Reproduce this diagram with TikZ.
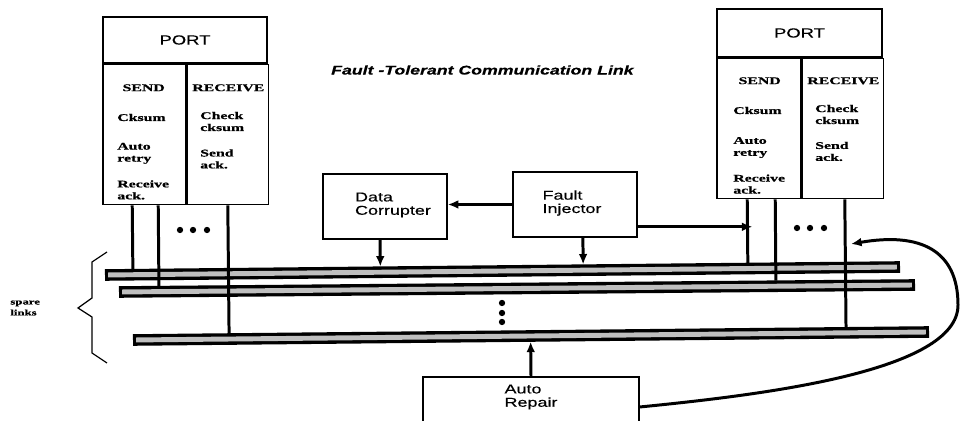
\documentclass[tikz,border=0pt]{standalone}
\usepackage{fontspec}
\newfontfamily\figsans[FakeStretch=1.4, FakeBold=0.4]{Liberation Sans}
\newfontfamily\figserif[FakeStretch=1.55, FakeBold=0.8]{Liberation Serif}
\usetikzlibrary{arrows.meta, positioning, calc}

\begin{document}
\begin{tikzpicture}[x=0.02cm, y=-0.02cm, >={Latex[length=6pt, width=5pt]},
  frame/.style={draw, line width=0.9pt, inner sep=0pt},
  boxtext/.style={font=\figsans\fontsize{7.3}{7.6}\selectfont, align=left, inner sep=0pt},
  coltext/.style={font=\figserif\bfseries\fontsize{5.8}{6.8}\selectfont, align=left, inner sep=0pt, anchor=north west},
  wire/.style={line width=1.7pt, shorten >=3.2pt},
  arr/.style={->, line width=1.7pt},
  bus/.style={line width=6.6pt, postaction={draw, gray!50, line width=2.8pt, shorten <=1.8pt, shorten >=1.8pt}}]
  \useasboundingbox (0,0) rectangle (960,421);

  % Title
  \node[font=\figsans\bfseries\itshape\fontsize{7.2}{9}\selectfont, anchor=west] (title) at (325,70) {Fault -Tolerant Communication Link};

  % Left port
  \node[frame, minimum width=3.28cm, minimum height=0.92cm, font=\figsans\fontsize{7.5}{9}\selectfont] (lport) at (185,40) {PORT};
  \node[frame, anchor=north west, minimum width=1.66cm, minimum height=2.8cm] (lsend) at (lport.south west) {};
  \node[frame, anchor=north west, minimum width=1.62cm, minimum height=2.8cm] (lrecv) at (lsend.north east) {};
  \node[coltext] (lsendtx) at (117,84) {\hspace{3pt}SEND\\[10.2pt]Cksum\\[9.5pt]Auto\\retry\\[7.9pt]Receive\\ack.};
  \node[coltext] (lrecvtx) at (192,84) {RECEIVE\\[9.1pt]\hspace{4.5pt}Check\\\hspace{4.5pt}cksum\\[7.7pt]\hspace{4.5pt}Send\\\hspace{4.5pt}ack.};

  % Right port
  \node[frame, minimum width=3.3cm, minimum height=0.96cm, font=\figsans\fontsize{7.5}{9}\selectfont] (rport) at (799.5,33) {PORT};
  \node[frame, anchor=north west, minimum width=1.68cm, minimum height=2.8cm] (rsend) at (rport.south west) {};
  \node[frame, anchor=north west, minimum width=1.62cm, minimum height=2.8cm] (rrecv) at (rsend.north east) {};
  \node[coltext] (rsendtx) at (733,77) {\hspace{3pt}SEND\\[10.2pt]Cksum\\[10.2pt]Auto\\retry\\[7.9pt]Receive\\ack.};
  \node[coltext] (rrecvtx) at (807,77) {RECEIVE\\[9.1pt]\hspace{4.5pt}Check\\\hspace{4.5pt}cksum\\[7.4pt]\hspace{4.5pt}Send\\\hspace{4.5pt}ack.};

  % Middle boxes
  \node[frame, minimum width=2.48cm, minimum height=1.3cm] (dcor) at (385,206.5) {};
  \node[boxtext] (dcortx) at (393,205) {Data\\Corrupter};
  \node[frame, minimum width=2.48cm, minimum height=1.3cm] (finj) at (575,204.5) {};
  \node[boxtext] (finjtx) at (572,203) {Fault\\Injector};
  \node[frame, minimum width=4.32cm, minimum height=1.2cm] (repair) at (531,407) {};
  \node[boxtext, below=0.16cm of repair.north] (repairtx) {Auto\\Repair};

  % Links
  \coordinate (b1w) at (105,275); \coordinate (b1e) at (900,267);
  \coordinate (b2w) at (119,292); \coordinate (b2e) at (915,285);
  \coordinate (b3w) at (133,340); \coordinate (b3e) at (929,332);
  \foreach \b in {1,2,3}
    \draw[bus] (b\b w) -- (b\b e);

  % Port taps
  \coordinate (ld1) at ($(lsend.south west)+(30,0)$);
  \coordinate (ld2) at ($(lsend.south west)+(56,0)$);
  \coordinate (ld3) at ($(lrecv.south west)+(41,0)$);
  \coordinate (rd1) at ($(rsend.south west)+(31,0)$);
  \coordinate (rd2) at ($(rsend.south west)+(59,0)$);
  \coordinate (rd3) at ($(rrecv.south west)+(43,0)$);
  \foreach \p/\b in {ld1/1, ld2/2, ld3/3, rd1/1, rd2/2, rd3/3}
    \draw[wire] (\p) -- ($(b\b w)!(\p)!(b\b e)$);

  % Dots
  \foreach \x in {180,193,207}
    \fill (\x,230) circle (1.8pt);
  \foreach \x in {797,810,824}
    \fill (\x,228) circle (1.8pt);
  \foreach \y in {303,313,322}
    \fill (502,\y) circle (1.8pt);

  % Arrows
  \draw[arr] (finj.west) -- (finj.west -| dcor.east);
  \coordinate (dcdown) at ([xshift=-2.8pt]dcor.south);
  \draw[arr, shorten >=3.2pt] (dcdown) -- ($(b1w)!(dcdown)!(b1e)$);
  \coordinate (fidown) at ([xshift=4.5pt]finj.south);
  \draw[arr, shorten >=3.2pt] (fidown) -- ($(b1w)!(fidown)!(b1e)$);
  \coordinate (fiout) at ($(finj.south east)+(0,-11)$);
  \draw[arr, shorten >=-3pt] (fiout) -- (fiout -| rd1);
  \draw[arr, shorten >=3.2pt] (repair.north) -- ($(b3w)!(repair.north)!(b3e)$);
  \coordinate (rtip) at (851,244);
  \draw[arr] (repair.east) .. controls (760,395) and (958,372) .. (958,305)
    .. controls (958,250) and (920,232) .. (rtip);

  % Spare links
  \draw[line width=0.7pt] (107,252) -- (92,262) -- (92,298) -- (78,308) -- (92,317) -- (92,353) -- (107,363);
  \node[font=\figserif\bfseries\fontsize{4.7}{6.2}\selectfont, align=left, anchor=west, inner sep=0pt] (spare) at (10,308) {spare\\links};
\end{tikzpicture}
\end{document}
